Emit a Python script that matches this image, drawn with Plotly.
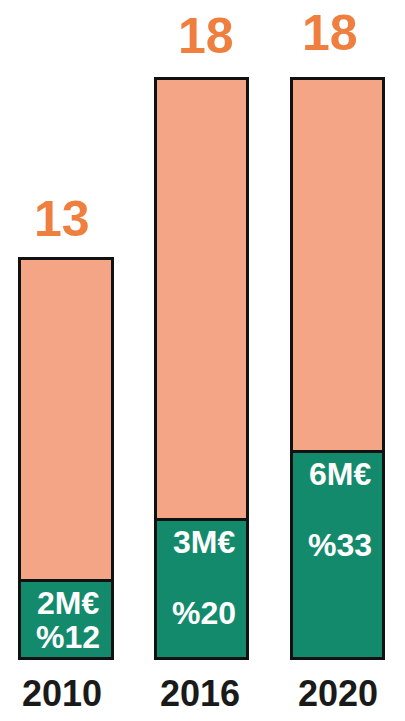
import plotly.graph_objects as go

# ---- data ----
years = ["2010", "2016", "2020"]
total_labels = ["13", "18", "18"]
share_labels = ["2M€", "3M€", "6M€"]
pct_labels = ["%12", "%20", "%33"]
# bar heights as drawn in the picture (same scale as the 18 bars)
total_heights = [12.4, 18, 18]
green_heights = [2.4, 4.3, 6.4]
pink_heights = [t - g for t, g in zip(total_heights, green_heights)]

# ---- style ----
PINK = "#F4A586"
GREEN = "#138A6C"
ORANGE = "#EF7F3F"
FONT = "Liberation Sans, Arial, sans-serif"
PX_PER_UNIT = 32.2  # pixel scale used for layout of annotations
W, H = 397, 713     # page body has an 8px margin
BASE = 650          # baseline pixel inside the figure

fig = go.Figure()
fig.add_trace(go.Bar(x=years, y=green_heights, marker=dict(color=GREEN, line=dict(color="#111111", width=3)),
                     width=0.68, hoverinfo="skip"))
fig.add_trace(go.Bar(x=years, y=pink_heights, marker=dict(color=PINK, line=dict(color="#111111", width=3)),
                     width=0.68, hoverinfo="skip"))

ann = []
for i, yr in enumerate(years):
    ann.append(dict(x=i, y=total_heights[i], xref="x", yref="y", text=f"<b>{total_labels[i]}</b>", showarrow=False,
                    yanchor="middle", yshift=[40, 42, 45][i], xshift=[-4, 4, -8][i], height=54,
                    font=dict(family=FONT, size=50, color=ORANGE)))
    ann.append(dict(x=i, y=0, xref="x", yref="y", text=f"<b>{yr}</b>", showarrow=False, yanchor="middle", yshift=-35,
                    xshift=[-4, -2, 0][i],
                    font=dict(family=FONT, size=36, color="#1a1a1a")))
    ann.append(dict(x=i, y=green_heights[i], xref="x", yref="y", text=f"<b>{share_labels[i]}</b>", showarrow=False,
                    yanchor="middle", yshift=-22, xshift=2,
                    font=dict(family=FONT, size=32, color="white")))
    top_px = green_heights[i] * PX_PER_UNIT
    pct_shift = max(top_px - 93, 21.5)
    ann.append(dict(x=i, y=0, xref="x", yref="y", text=f"<b>{pct_labels[i]}</b>", showarrow=False,
                    yanchor="middle", yshift=pct_shift, xshift=2,
                    font=dict(family=FONT, size=32, color="white")))

y_top = BASE / PX_PER_UNIT
y_bot = -(H - BASE) / PX_PER_UNIT
fig.update_layout(
    barmode="stack", width=W, height=H, margin=dict(l=0, r=0, t=0, b=0, pad=0),
    paper_bgcolor="white", plot_bgcolor="white", showlegend=False,
    xaxis=dict(type="category", range=[-0.427, 2.497], showgrid=False, zeroline=False,
               showticklabels=False, ticks="", showline=False),
    yaxis=dict(range=[y_bot, y_top], showgrid=False, zeroline=False,
               showticklabels=False, ticks="", showline=False),
    annotations=ann,
)
fig.write_html("out.html")
